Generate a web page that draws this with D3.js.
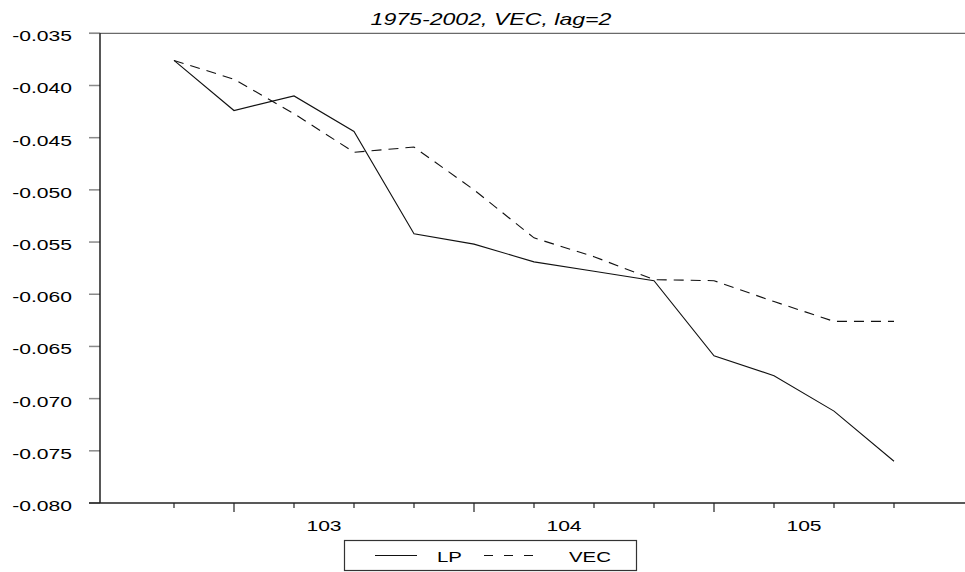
<!DOCTYPE html>
<html>
<head>
<meta charset="utf-8">
<script src="https://cdn.jsdelivr.net/npm/d3@7/dist/d3.min.js"></script>
<style>
  body { margin: 0; background: #fff; }
  svg { display: block; }
  text { font-family: "Liberation Sans", Arial, sans-serif; fill: #000; }
</style>
</head>
<body>
<svg id="chart" width="965" height="572"></svg>
<script>
// Quarterly steps along the horizontal axis
const steps = d3.range(13);
// Series values per step
const lp  = [-0.0376, -0.0424, -0.0410, -0.0444, -0.0542, -0.0552, -0.0569, -0.0578, -0.0587, -0.0659, -0.0678, -0.0712, -0.0760];
const vec = [-0.0376, -0.0394, -0.0427, -0.0464, -0.0459, -0.0500, -0.0546, -0.0564, -0.0586, -0.0587, -0.0607, -0.0626, -0.0626];
// Axis ticks and labels
const yTicks = [-0.035, -0.040, -0.045, -0.050, -0.055, -0.060, -0.065, -0.070, -0.075, -0.080];
const majorSteps = [1, 5, 9];
const yearLabels = ["103", "104", "105"];
const yearLabelSteps = [2.5, 6.5, 10.5];
const seriesNames = ["LP", "VEC"];
const title = "1975-2002, VEC, lag=2";

const frame = { left: 100, right: 965, top: 33.3, bottom: 503 };
const SX = 1.36; // horizontal stretch of the lettering

const svg = d3.select("#chart");
const x = d3.scaleLinear().domain([0, 12]).range([174, 894]);
const y = d3.scaleLinear().domain([-0.080, -0.035]).range([frame.bottom, frame.top]);
const fmt = d3.formatLocale({ decimal: ".", thousands: ",", grouping: [3], currency: ["", ""], minus: "-" }).format(".3f");

function stretchedText(g, tx, ty, str, size, anchor, italic) {
  return g.append("text")
    .attr("transform", `translate(${tx},${ty}) scale(${SX},1)`)
    .attr("text-anchor", anchor)
    .attr("font-size", size)
    .attr("font-style", italic ? "italic" : "normal")
    .text(str);
}

// Title
stretchedText(svg, 491, 25, title, 17, "middle", true);

// Top frame line
svg.append("line")
  .attr("x1", 89).attr("x2", frame.right)
  .attr("y1", frame.top).attr("y2", frame.top)
  .attr("stroke", "#6a6a6a").attr("stroke-width", 1.3);

// Y axis ticks and labels
const yg = svg.append("g");
yg.selectAll("line.tick").data(yTicks).join("line")
  .attr("class", "tick")
  .attr("x1", 89).attr("x2", frame.left)
  .attr("y1", d => y(d)).attr("y2", d => y(d))
  .attr("stroke", "#8a8a8a").attr("stroke-width", 1.5);
yTicks.forEach(d => stretchedText(yg, 72, y(d) + 8, fmt(d), 15.5, "end", false));

// Left axis line
svg.append("line")
  .attr("x1", frame.left).attr("x2", frame.left)
  .attr("y1", frame.top).attr("y2", frame.bottom)
  .attr("stroke", "#111").attr("stroke-width", 1.4);

// Bottom axis line
svg.append("line")
  .attr("x1", 89).attr("x2", frame.right)
  .attr("y1", frame.bottom).attr("y2", frame.bottom)
  .attr("stroke", "#222").attr("stroke-width", 1.4);

// X ticks: short at every step, long at year boundaries
const xg = svg.append("g");
xg.selectAll("line").data(steps).join("line")
  .attr("x1", d => x(d)).attr("x2", d => x(d))
  .attr("y1", frame.bottom)
  .attr("y2", d => frame.bottom + (majorSteps.includes(d) ? 9 : 5))
  .attr("stroke", "#222").attr("stroke-width", 1.2);
yearLabels.forEach((lab, i) => stretchedText(xg, x(yearLabelSteps[i]), 531, lab, 15.5, "middle", false));

// Series lines
const line = d3.line().x((d, i) => x(steps[i])).y(d => y(d));
svg.append("path").datum(lp)
  .attr("d", line).attr("fill", "none")
  .attr("stroke", "#111").attr("stroke-width", 1.1);
svg.append("path").datum(vec)
  .attr("d", line).attr("fill", "none")
  .attr("stroke", "#111").attr("stroke-width", 1.1)
  .attr("stroke-dasharray", "10,7");

// Legend
const lg = svg.append("g");
lg.append("rect")
  .attr("x", 344.5).attr("y", 540.5).attr("width", 292).attr("height", 30)
  .attr("fill", "#fff").attr("stroke", "#333").attr("stroke-width", 1.2);
lg.append("line")
  .attr("x1", 375).attr("x2", 417).attr("y1", 555.5).attr("y2", 555.5)
  .attr("stroke", "#111").attr("stroke-width", 1.1);
lg.append("line")
  .attr("x1", 484).attr("x2", 538).attr("y1", 555.5).attr("y2", 555.5)
  .attr("stroke", "#111").attr("stroke-width", 1.1)
  .attr("stroke-dasharray", "9,11");
stretchedText(lg, 437, 562, seriesNames[0], 15, "start", false);
stretchedText(lg, 569, 562, seriesNames[1], 15, "start", false);
</script>
</body>
</html>
